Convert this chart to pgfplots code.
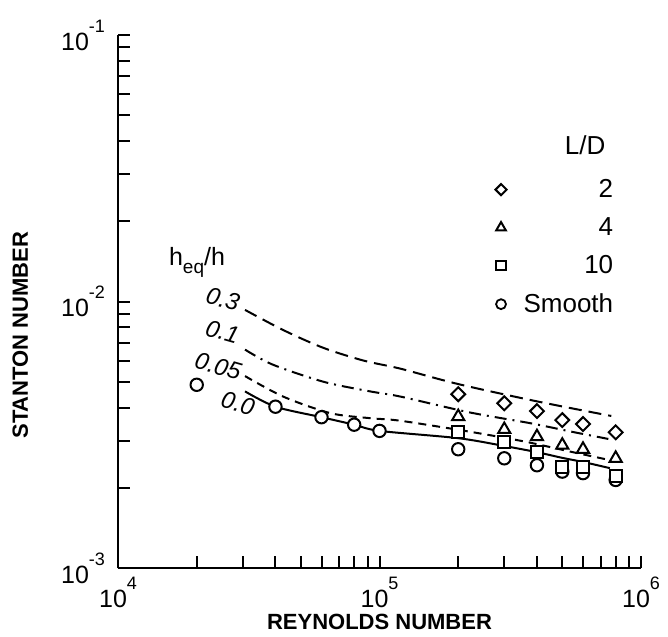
\documentclass[border=0pt]{standalone}
\usepackage{fontspec}
\setmainfont{Liberation Sans}
\usepackage{pgfplots}
\pgfplotsset{compat=1.18}
\newcommand{\tp}[1]{10\raisebox{9pt}{\fontsize{9}{9}\selectfont #1}}

\begin{document}
\begin{tikzpicture}
\begin{axis}[
  at={(0,0)}, anchor=south west,
  scale only axis,
  width=261.5pt, height=266.5pt,
  xmode=log, ymode=log,
  xmin=1e4, xmax=1e6, ymin=1e-3, ymax=1e-1,
  axis lines*=left,
  axis line style={line width=1.2pt},
  tick align=inside,
  major tick length=6pt, minor tick length=6pt,
  every tick/.style={black, line width=1pt},
  xtick={1e4,1e5,1e6}, xticklabels={\tp{4},\tp{5},\tp{6}},
  ytick={1e-3,1e-2,1e-1}, yticklabels={\tp{-3},\tp{-2},\tp{-1}},
  tick label style={font=\fontsize{12.5}{13}\selectfont},
  xticklabel style={yshift=-1pt},
  yticklabel style={xshift=-3pt},
  xlabel={\bfseries REYNOLDS NUMBER},
  ylabel={\bfseries STANTON NUMBER},
  label style={font=\fontsize{11}{12}\selectfont},
  xlabel style={at={(axis description cs:0.5,-0.101)}, anchor=center},
  ylabel style={at={(axis description cs:-0.187,0.437)}, anchor=center},
  legend style={draw=none, fill=none, at={(axis description cs:0.721,0.738)}, anchor=north west,
    font=\fontsize{13}{14}\selectfont, row sep=4.5pt, column sep=6.5pt, inner sep=0pt},
  legend cell align=right,
  legend image code/.code={\draw[#1, mark size=0.8*\pgfplotmarksize, line width=0.9pt] plot coordinates {(0pt,0pt)};},
  clip=false,
]
% curves for h_eq/h
\addplot[forget plot, black, line width=1pt, smooth, dash pattern=on 6.5pt off 3.5pt] coordinates {
 (3.06e4,9.3e-3) (4.3e4,7.8e-3) (6.1e4,6.7e-3) (8.7e4,6.0e-3) (1.2e5,5.6e-3)
 (2e5,4.9e-3) (4e5,4.22e-3) (7.7e5,3.72e-3)};
\addplot[forget plot, black, line width=1pt, smooth, dash pattern=on 6pt off 3pt on 1pt off 3pt] coordinates {
 (3.06e4,6.6e-3) (3.9e4,5.8e-3) (6.1e4,5.0e-3) (9.2e4,4.6e-3) (1.2e5,4.4e-3)
 (2.2e5,3.84e-3) (3.8e5,3.49e-3) (5.4e5,3.25e-3) (7.5e5,3.05e-3)};
\addplot[forget plot, black, line width=1pt, smooth, dash pattern=on 4pt off 3pt] coordinates {
 (3.06e4,5.25e-3) (4.3e4,4.39e-3) (6.5e4,3.81e-3) (9.2e4,3.65e-3) (1.2e5,3.57e-3)
 (2.2e5,3.25e-3) (3.6e5,2.98e-3) (5.4e5,2.73e-3) (7.6e5,2.54e-3)};
\addplot[forget plot, black, line width=1pt, smooth] coordinates {
 (3.06e4,4.6e-3) (4e4,4.03e-3) (6e4,3.68e-3) (8e4,3.45e-3) (1e5,3.27e-3)
 (2e5,3.07e-3) (3e5,2.87e-3) (4e5,2.72e-3) (5e5,2.59e-3) (6e5,2.5e-3) (7.6e5,2.37e-3)};
% smooth tube (circles) drawn first so squares cover them
\addplot[forget plot, only marks, mark=*, mark size=3.1pt, mark options={fill=white, draw=black, line width=1pt}] coordinates {
 (2e4,4.87e-3) (4e4,4.03e-3) (6e4,3.68e-3) (8e4,3.45e-3) (1e5,3.27e-3)
 (2e5,2.79e-3) (3e5,2.58e-3) (4e5,2.43e-3) (5e5,2.30e-3) (6e5,2.27e-3) (8e5,2.14e-3)};
% L/D = 2
\addplot[only marks, mark=square*, mark size=2.45pt, mark options={rotate=45, fill=white, draw=black, line width=1pt}] coordinates {
 (2e5,4.49e-3) (3e5,4.15e-3) (4e5,3.88e-3) (5e5,3.59e-3) (6e5,3.47e-3) (8e5,3.23e-3)};
\addlegendentry{2}
% L/D = 4
\addplot[only marks, mark=triangle*, mark size=3.5pt, mark options={fill=white, draw=black, line width=1pt}] coordinates {
 (2e5,3.70e-3) (3e5,3.31e-3) (4e5,3.11e-3) (5e5,2.89e-3) (6e5,2.79e-3) (8e5,2.58e-3)};
\addlegendentry{4}
% L/D = 10
\addplot[only marks, mark=square*, mark size=3pt, mark options={fill=white, draw=black, line width=1pt}] coordinates {
 (2e5,3.25e-3) (3e5,2.98e-3) (4e5,2.73e-3) (5e5,2.40e-3) (6e5,2.40e-3) (8e5,2.21e-3)};
\addlegendentry{10}
\addlegendimage{only marks, mark=*, mark size=3.1pt, mark options={fill=white, draw=black}}
\addlegendentry{Smooth}

\node[font=\fontsize{13}{14}\selectfont] at (rel axis cs:0.893,0.7936) {L/D};
\node[font=\fontsize{12.5}{13}\selectfont] at (rel axis cs:0.151,0.574) {h\raisebox{-4pt}{\fontsize{9.5}{9.5}\selectfont eq}/h};
\node[inner sep=0pt, font=\fontsize{12}{13}\selectfont\itshape, rotate=-16] at (rel axis cs:0.2008,0.5047) {0.3};
\node[inner sep=0pt, font=\fontsize{12}{13}\selectfont\itshape, rotate=-16] at (rel axis cs:0.1998,0.4430) {0.1};
\node[inner sep=0pt, font=\fontsize{12}{13}\selectfont\itshape, rotate=-16] at (rel axis cs:0.1915,0.3790) {0.05};
\node[inner sep=0pt, font=\fontsize{12}{13}\selectfont\itshape, rotate=-16] at (rel axis cs:0.2295,0.3085) {0.0};
\end{axis}
\path (-59pt,-33.5pt) rectangle (275pt,284pt);
\end{tikzpicture}
\end{document}
